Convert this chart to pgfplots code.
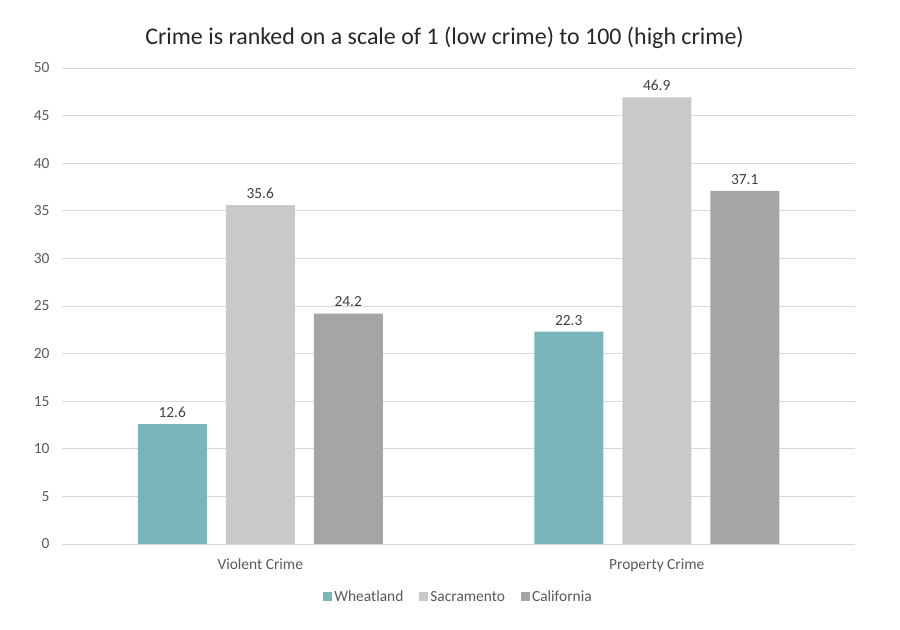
\documentclass[border=0pt]{standalone}
\usepackage{pgfplots}
\pgfplotsset{compat=1.18}
\usepackage{fontspec}
\setmainfont{Carlito}
\definecolor{teal1}{HTML}{7AB5BA}
\definecolor{lgray}{HTML}{C9C9C9}
\definecolor{mgray}{HTML}{A5A5A5}
\definecolor{txt}{HTML}{595959}
\definecolor{gridc}{HTML}{D9D9D9}
\begin{document}
\begin{tikzpicture}[x=1bp,y=1bp]
\path[use as bounding box] (0,0) rectangle (900,630);
\begin{axis}[
  at={(62bp,86bp)}, anchor=south west,
  scale only axis, width=793bp, height=476bp,
  ybar=19bp, bar width=69bp,
  xmin=-0.5, xmax=1.5, ymin=0, ymax=50,
  xtick=data, xticklabels={Violent Crime, Property Crime},
  ytick={0,5,...,50},
  ymajorgrids, grid style={gridc, line width=0.7bp},
  axis line style={draw=none},
  major tick length=0pt,
  tick label style={font=\fontsize{15.5}{18}\selectfont, text=txt},
  /pgf/number format/assume math mode=true,
  yticklabel style={xshift=-9bp},
  xticklabel style={yshift=-11bp},
  nodes near coords,
  every node near coord/.append style={font=\fontsize{15.5}{18}\selectfont, text=black!75, yshift=3bp},
  nodes near coords style={/pgf/number format/.cd, fixed, fixed zerofill, precision=1, assume math mode=true},
  legend style={at={(0.5,-0.09)}, anchor=north, draw=none, legend columns=3,
    font=\fontsize{15.5}{18}\selectfont, text=txt,
    /tikz/every even column/.append style={column sep=14bp}},
  legend image code/.code={\fill[#1] (0bp,-4bp) rectangle (9bp,5bp);},
  title={Crime is ranked on a scale of 1 (low crime) to 100 (high crime)},
  title style={font=\fontsize{24}{28}\selectfont, text=black!85, yshift=10bp, xshift=-14bp},
]
\draw[draw=gridc!85!black, line width=0.9bp] (axis cs:-0.5,0) -- (axis cs:1.5,0);
\addplot[fill=teal1, draw=none] coordinates {(0,12.6) (1,22.3)};
\addplot[fill=lgray, draw=none] coordinates {(0,35.6) (1,46.9)};
\addplot[fill=mgray, draw=none] coordinates {(0,24.2) (1,37.1)};
\legend{Wheatland, Sacramento, California}
\end{axis}
\end{tikzpicture}
\end{document}
